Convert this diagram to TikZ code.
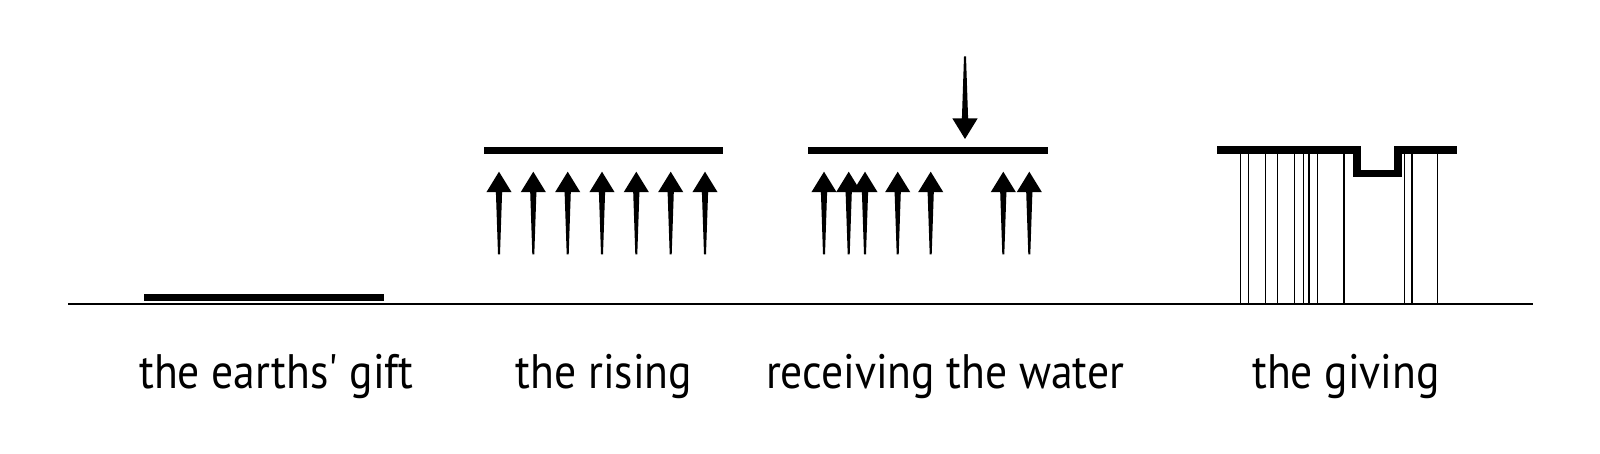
\documentclass[tikz,border=0pt]{standalone}
\usepackage{fontspec}
\setmainfont{PT Sans}
\usetikzlibrary{positioning}
\newcommand{\tall}[1]{\scalebox{1}[1.11]{#1}}

\begin{document}
\begin{tikzpicture}[x=0.5pt,y=-0.5pt,
  bar/.style={line width=3.65pt,miter limit=10},
  post/.style={line width=0.65pt},
  lbl/.style={anchor=base,inner sep=0pt,font=\fontsize{21.8}{25}\selectfont},
  spike/.pic={\fill (0,0)--(-12.6,20.5)--(-3.1,20.5)--(-1,82.6)--(1,82.6)--(3.1,20.5)--(12.6,20.5)--cycle;}]
\useasboundingbox[fill=white] (0,0) rectangle (1600,454);
% ground
\draw[post] (68,304) -- (1533,304);
% the earths' gift
\draw[bar] (144.3,297.2) -- (384.3,297.2);
% the rising
\draw[bar] (484,150.3) -- (723,150.3);
\foreach \x in {499,533.3,567.7,602,636.3,670.7,705} \pic at (\x,171.7) {spike};
% receiving the water
\draw[bar] (808.3,150.3) -- (1048.3,150.3);
\foreach \x in {824,848.7,865,897.7,930.7,1003.3,1029.3} \pic at (\x,171.7) {spike};
\pic[rotate=180] at (965,139) {spike};
% the giving
\foreach \x in {1240.7,1248.7,1265.3,1277.3,1294.7,1303.3,1309,1317.3,1344,1404.7,1412,1437.3}
  \draw[post] (\x,152) -- (\x,304);
\draw[bar] (1217.3,150) -- (1357,150) -- (1357,173.3) -- (1398,173.3) -- (1398,150) -- (1456.7,150);
% labels
\node[lbl] (gift) at (276,388) {\tall{the earths\textquotesingle{} gift}};
\node[lbl] (rise) at (604,388) {\tall{the rising}};
\node[lbl] (recv) at (945,388) {\tall{receiving the water}};
\node[lbl] (give) at (1346,388) {\tall{the giving}};
\end{tikzpicture}
\end{document}
